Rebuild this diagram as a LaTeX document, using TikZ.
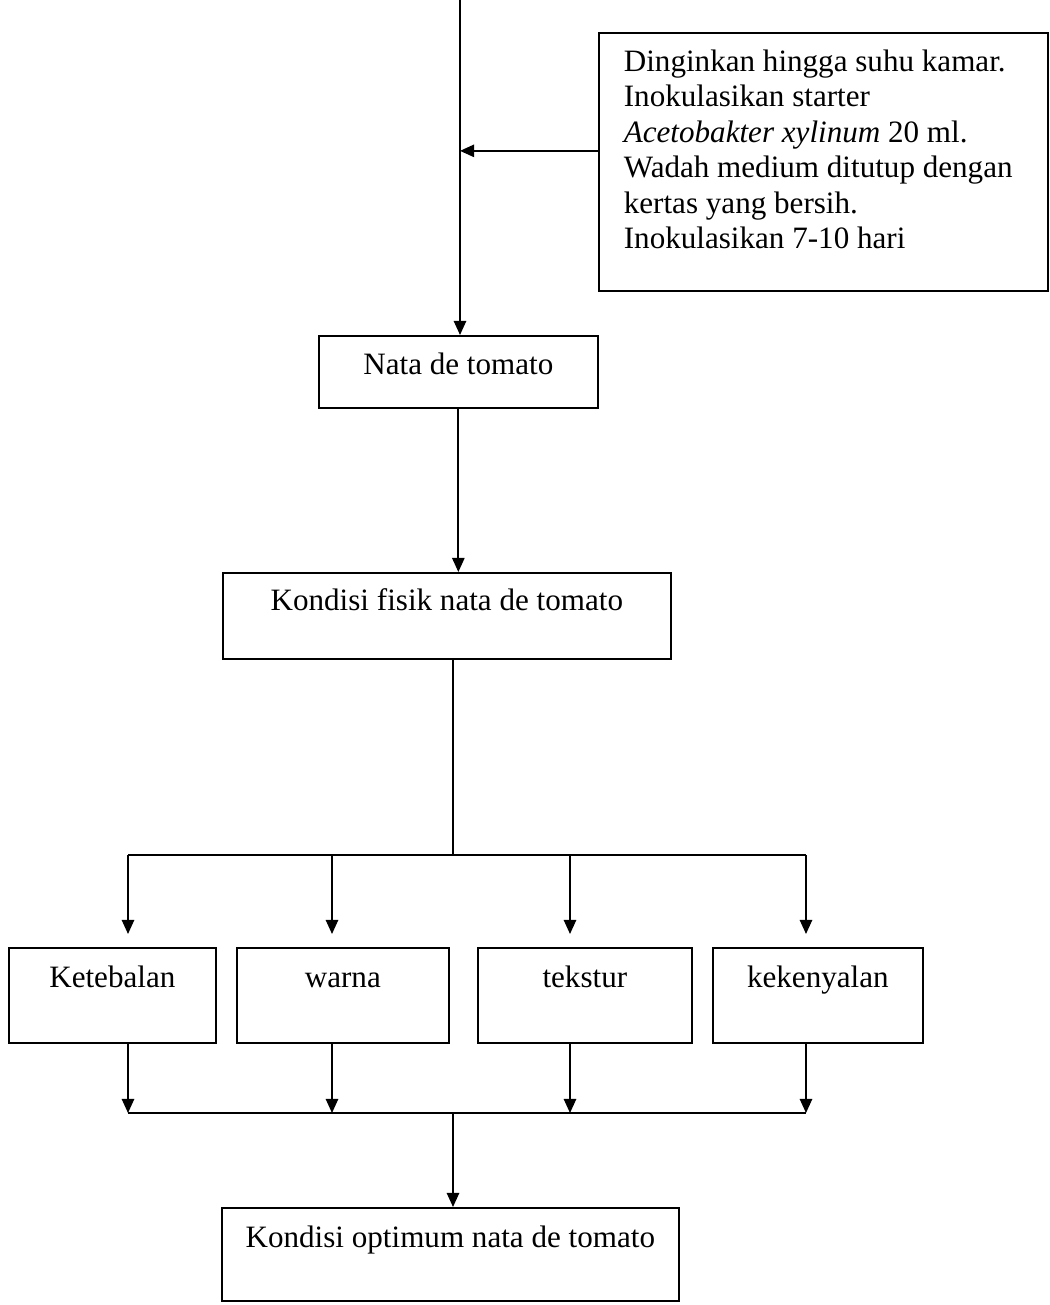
\documentclass[tikz,border=0pt]{standalone}
\usepackage{fontspec}
\setmainfont{Liberation Serif}
\usetikzlibrary{arrows.meta}
\tikzset{
    arrow/.style={-{Triangle[width=7pt,length=8pt]},line width=1pt},
    link/.style={line width=1pt},
    box/.style={draw,line width=1pt,inner sep=0pt,anchor=north west},
    step1/.style={box,text height=0.8cm,text depth=1.1cm},
    every node/.style={font=\fontsize{17.7pt}{20.2pt}\selectfont}
}

\begin{document}
\begin{tikzpicture}[x=0.02cm, y=-0.02cm]
			\useasboundingbox (0,0) rectangle (1050,1305);
			\coordinate (start) at (460,0);
			\coordinate (split) at (453,855);
			\coordinate (merge) at (453,1113);
			\node[box, inner xsep=0.5cm, inner ysep=0.34cm] (note) at (598,32) {\parbox[c][4.48cm][t]{7.98cm}{\raggedright Dinginkan hingga suhu kamar.\\ Inokulasikan starter\\ \textit{Acetobakter xylinum} 20 ml.\\ Wadah medium ditutup dengan\\ kertas yang bersih.\\ Inokulasikan 7-10 hari}};
			\node[box, minimum width=5.58cm, text height=0.78cm, text depth=0.66cm] (nata) at (318,335) {Nata de tomato};
			\node[box, minimum width=8.96cm, text height=0.76cm, text depth=0.96cm] (fisik) at (222,572) {Kondisi fisik nata de tomato};
			\node[step1, minimum width=4.14cm] (kete) at (8,947) {Ketebalan};
			\node[step1, minimum width=4.24cm] (warna) at (236,947) {warna};
			\node[step1, minimum width=4.28cm] (tekstur) at (477,947) {tekstur};
			\node[step1, minimum width=4.2cm] (kenyal) at (712,947) {kekenyalan};
			\node[box, minimum width=9.14cm, text height=0.8cm, text depth=1.06cm] (optimum) at (221,1207) {Kondisi optimum nata de tomato};
			\draw[arrow] (start) -- (start |- nata.north);
			\draw[arrow] ([yshift=0.22cm]note.west) -- ([yshift=0.22cm]note.west -| start);
			\draw[arrow] (nata.south) -- (nata.south |- fisik.north);
			\draw[link] (split |- fisik.south) -- (split);
			\foreach \n/\x in {1/128, 2/332, 3/570, 4/806} {
				\coordinate (s\n) at (\x,855);
				\coordinate (m\n) at (\x,1113);
			}
			\draw[link] (s1) -- (s4);
			\draw[link] (m1) -- (m4);
			\foreach \n/\b in {1/kete, 2/warna, 3/tekstur, 4/kenyal} {
				\draw[arrow, shorten >=0.26cm] (s\n) -- (s\n |- \b.north);
				\draw[arrow] (m\n |- \b.south) -- (m\n);
			}
			\draw[arrow] (merge) -- (merge |- optimum.north);
		\end{tikzpicture}
\end{document}
